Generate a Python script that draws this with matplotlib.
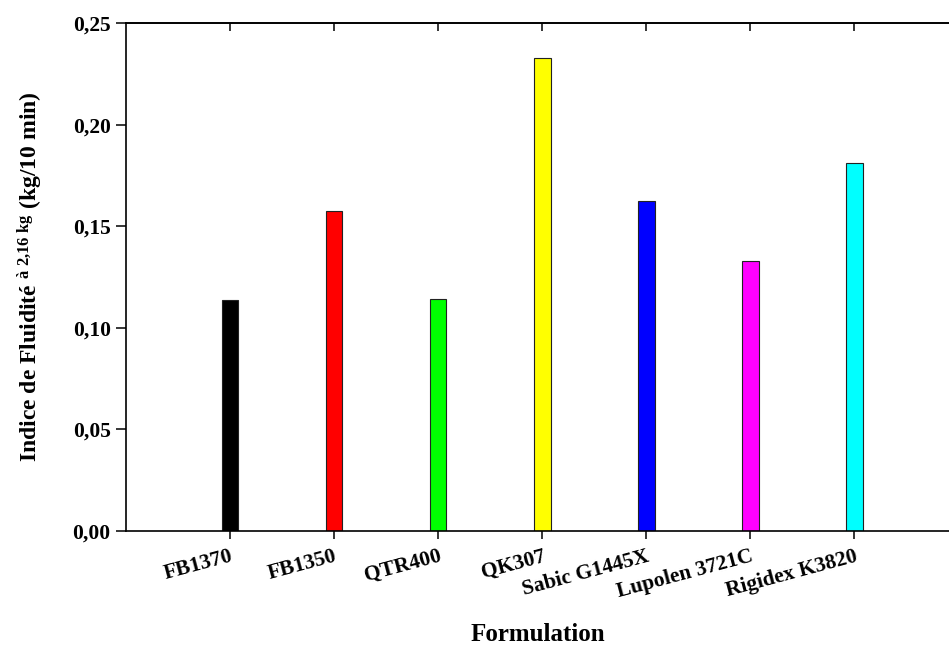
import matplotlib
matplotlib.use('Agg')
import matplotlib.pyplot as plt

# donnees
formulations = ['FB1370', 'FB1350', 'QTR400', 'QK307', 'Sabic G1445X',
                'Lupolen 3721C', 'Rigidex K3820']
indice = [0.1137, 0.1575, 0.1142, 0.2328, 0.1624, 0.1329, 0.1811]
couleurs = ['#000000', '#FF0000', '#00FF00', '#FFFF00', '#0000FF',
            '#FF00FF', '#00FFFF']
yticks = [0.00, 0.05, 0.10, 0.15, 0.20, 0.25]
ytick_labels = ['0,00', '0,05', '0,10', '0,15', '0,20', '0,25']

plt.rcParams['font.family'] = ['Liberation Serif', 'DejaVu Serif']
plt.rcParams['font.weight'] = 'bold'
plt.rcParams['mathtext.fontset'] = 'custom'
plt.rcParams['mathtext.rm'] = 'Liberation Serif:bold'
plt.rcParams['mathtext.it'] = 'Liberation Serif:bold'
plt.rcParams['mathtext.bf'] = 'Liberation Serif:bold'

fig = plt.figure(figsize=(9.49, 6.46), dpi=100)
ax = fig.add_axes([0.1328, 0.178, 0.8672, 0.7864])

x = list(range(1, len(formulations) + 1))
ax.bar(x, indice, width=0.16, color=couleurs, edgecolor='#222222', linewidth=0.8)

ax.set_xlim(0, 7.91)
ax.set_ylim(0, 0.25)

ax.set_yticks(yticks)
ax.set_yticklabels(ytick_labels, fontsize=15.5, fontweight='bold')
ax.set_xticks(x)
ax.set_xticklabels(formulations, fontsize=15.5, fontweight='bold', rotation=15,
                   ha='right', rotation_mode='anchor')

ax.tick_params(axis='y', direction='out', length=7, width=1.1, pad=4)
ax.tick_params(axis='x', direction='out', length=6, width=1.1, pad=5)

for s in ['left', 'bottom', 'top']:
    ax.spines[s].set_linewidth(1.2)
ax.spines['right'].set_visible(False)

# ticks du haut vers l'interieur
haut = ax.secondary_xaxis('top')
haut.set_xticks(x)
haut.tick_params(direction='in', length=6, width=1.1, labeltop=False)
haut.spines['top'].set_linewidth(1.2)

ax.set_ylabel(r'Indice de Fluidité $^{\rm à\ 2{,}16\ kg}$ (kg/10 min)',
              fontsize=17, fontweight='bold')
ax.yaxis.set_label_coords(-0.098, 0.5)
ax.set_xlabel('Formulation', fontsize=18, fontweight='bold')
ax.xaxis.set_label_coords(0.5, -0.182)

fig.savefig('out.png', dpi=100)
